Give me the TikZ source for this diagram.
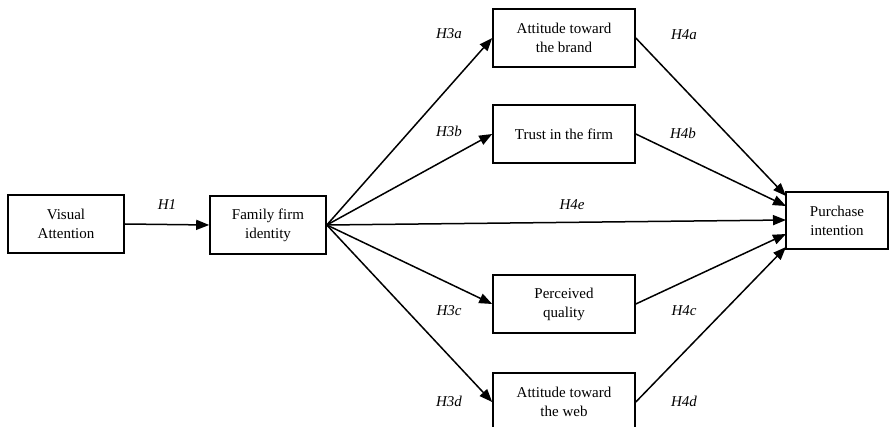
\documentclass[tikz,border=0pt]{standalone}
\usepackage{fontspec}
\setmainfont{Liberation Serif}
\usetikzlibrary{arrows.meta}
\begin{document}
\begin{tikzpicture}[x=1pt,y=-1pt,
  box/.style={draw, line width=1.6pt, align=center, inner sep=0pt, font=\fontsize{15}{19}\selectfont},
  arr/.style={line width=1.5pt, -{Triangle[length=13pt,width=10pt]}},
  hyp/.style={font=\fontsize{15}{18}\selectfont\itshape}]
\useasboundingbox (0,0) rectangle (892,427);
\node[box, minimum width=116pt, minimum height=58pt] (va) at (66,224) {Visual\\Attention};
\node[box, minimum width=116pt, minimum height=58pt] (ffi) at (268,225) {Family firm\\identity};
\node[box, minimum width=142pt, minimum height=58pt] (atb) at (564,38) {Attitude toward\\the brand};
\node[box, minimum width=142pt, minimum height=58pt] (tif) at (564,134) {Trust in the firm};
\node[box, minimum width=142pt, minimum height=58pt] (pq) at (564,304) {Perceived\\quality};
\node[box, minimum width=142pt, minimum height=58pt] (atw) at (564,402) {Attitude toward\\the web};
\node[box, minimum width=102pt, minimum height=57pt] (pi) at (837,220.5) {Purchase\\intention};
\coordinate (p1) at (786,196);
\coordinate (p2) at (786,206);
\coordinate (p3) at (786,220);
\coordinate (p4) at (786,234);
\coordinate (p5) at (786,247);
\draw[arr] (va.east) -- (ffi.west);
\draw[arr] (ffi.east) -- (atb.west);
\draw[arr] (ffi.east) -- (tif.west);
\draw[arr] (ffi.east) -- (p3);
\draw[arr] (ffi.east) -- (pq.west);
\draw[arr] (ffi.east) -- (atw.west);
\draw[arr] (atb.east) -- (p1);
\draw[arr] (tif.east) -- (p2);
\draw[arr] (pq.east) -- (p4);
\draw[arr] (atw.east) -- (p5);
\node[hyp] (h1) at (167,205) {H1};
\node[hyp] (h3a) at (449,34) {H3a};
\node[hyp] (h3b) at (449,131) {H3b};
\node[hyp] (h3c) at (449,311) {H3c};
\node[hyp] (h3d) at (449,401) {H3d};
\node[hyp] (h4a) at (684,35) {H4a};
\node[hyp] (h4b) at (683,133) {H4b};
\node[hyp] (h4e) at (572,205) {H4e};
\node[hyp] (h4c) at (684,311) {H4c};
\node[hyp] (h4d) at (684,401) {H4d};
\end{tikzpicture}
\end{document}
